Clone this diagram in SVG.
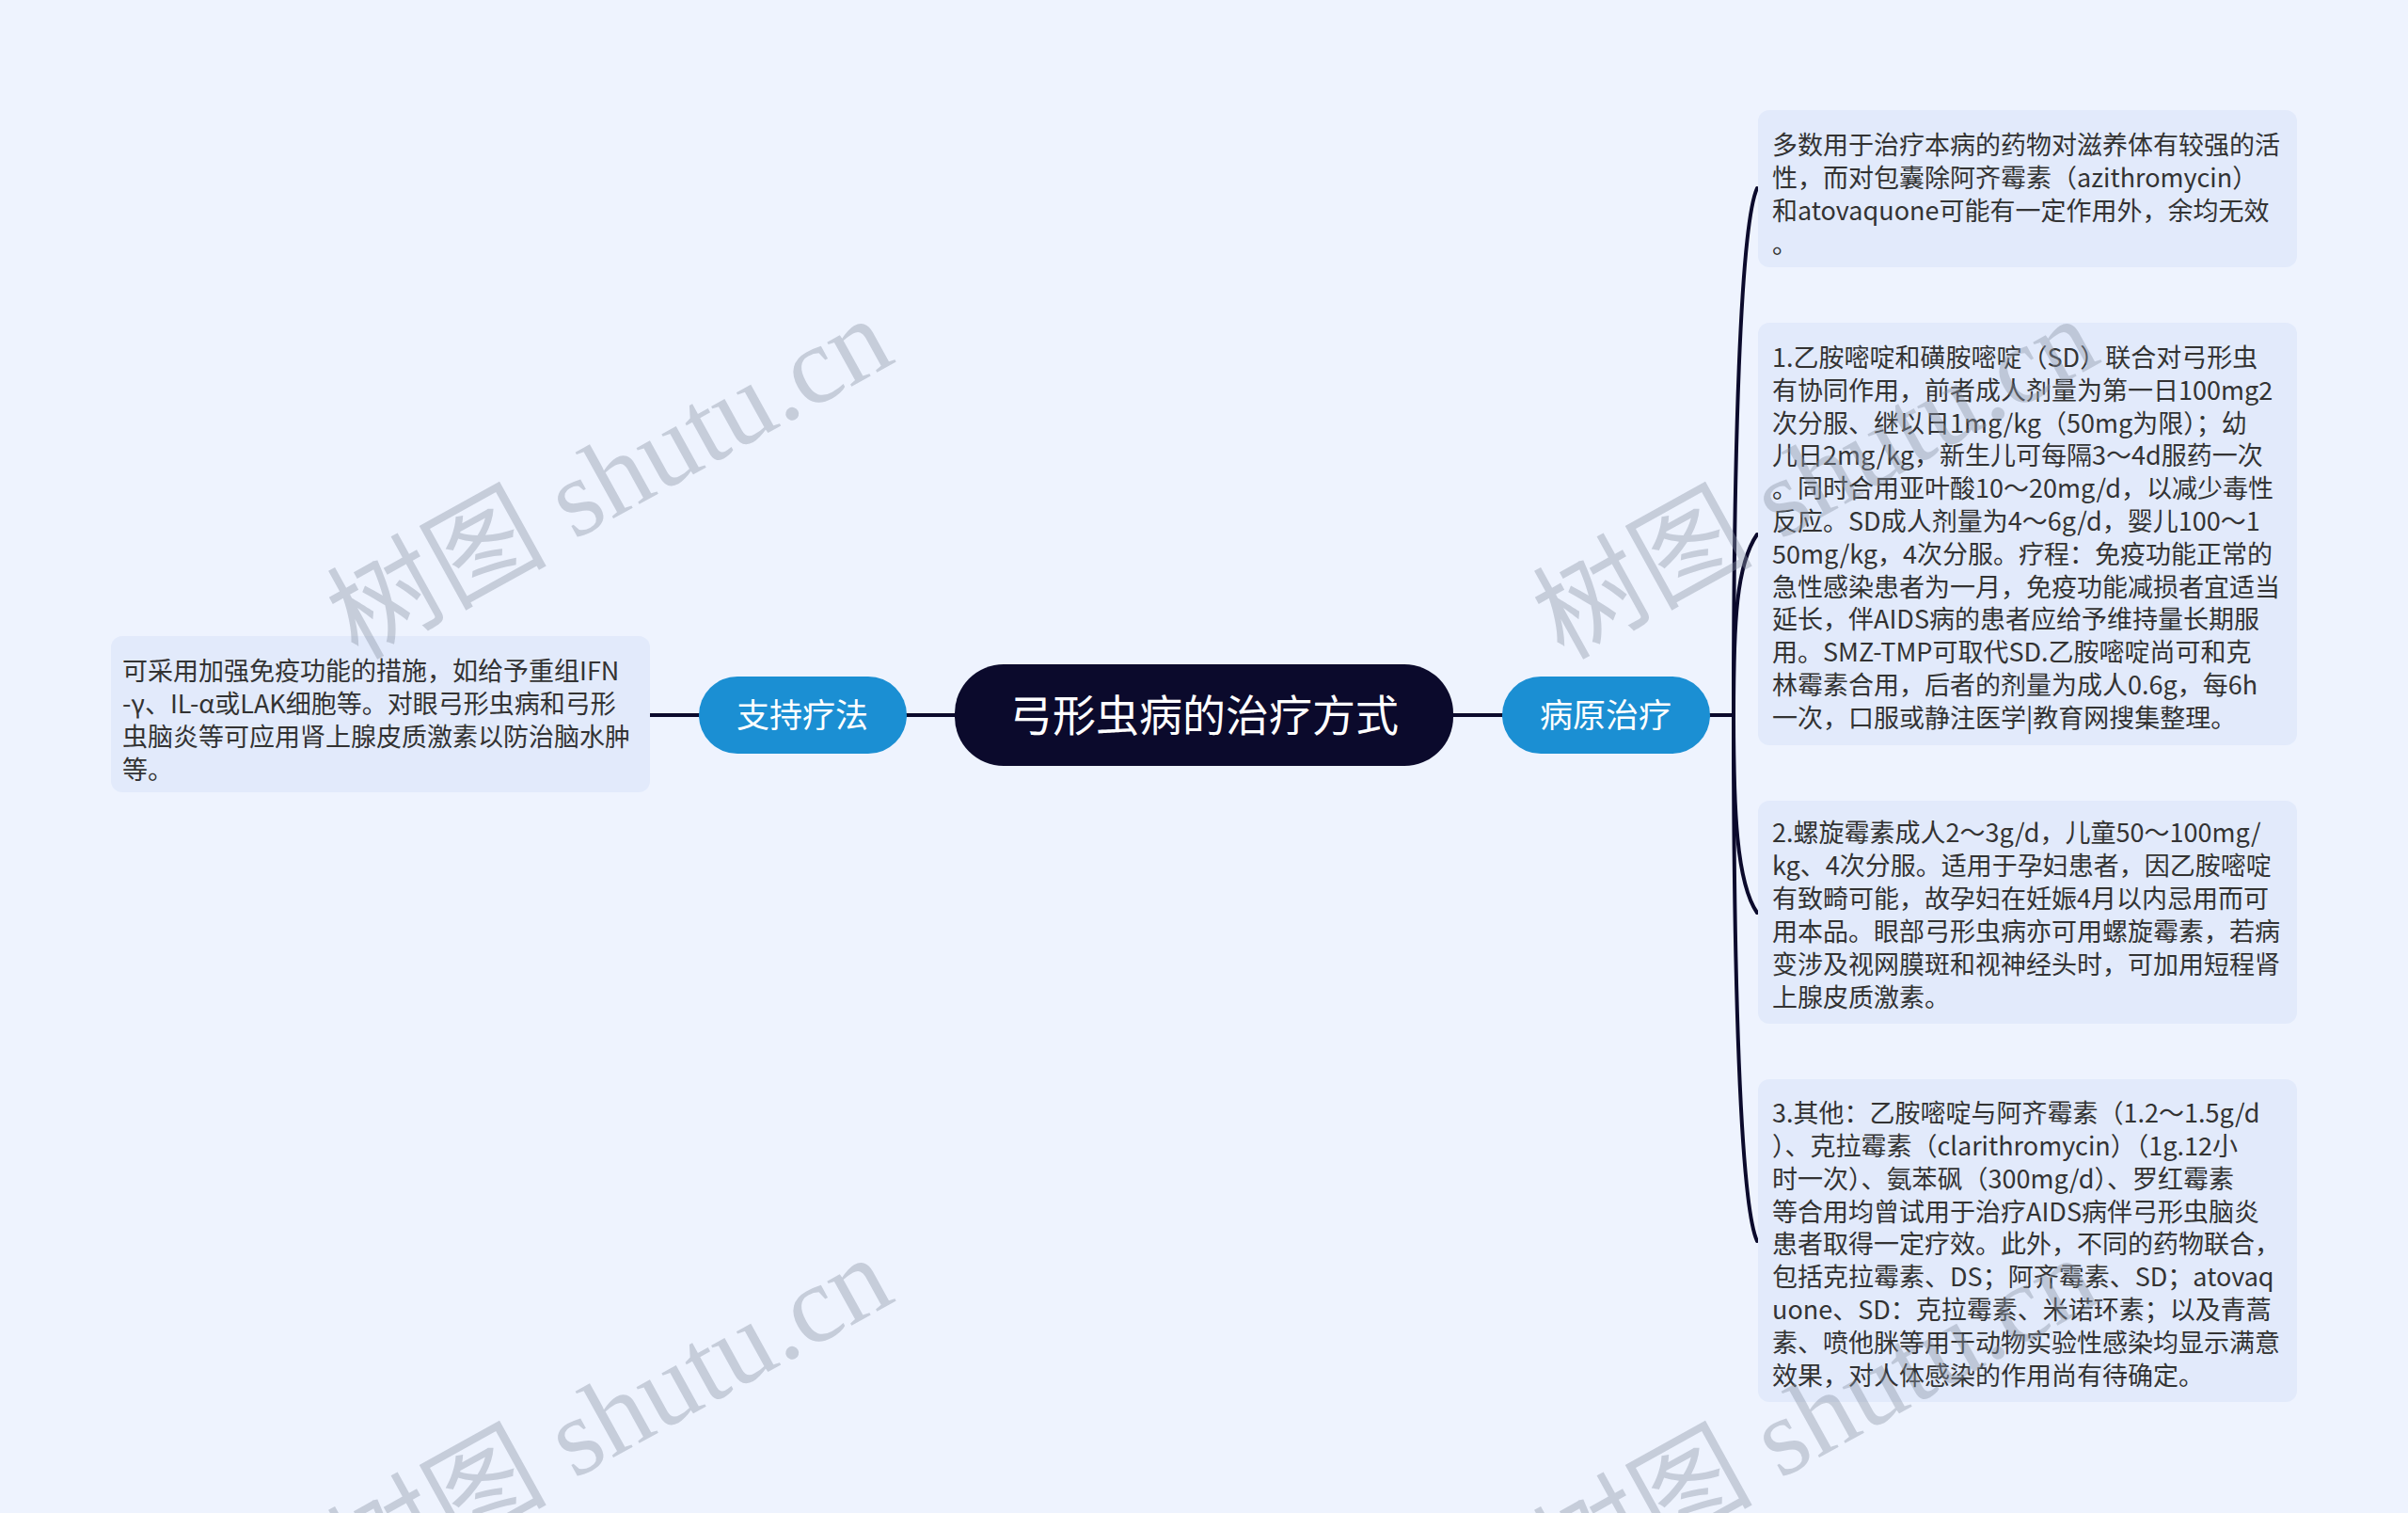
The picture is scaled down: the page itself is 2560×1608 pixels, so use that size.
<svg xmlns="http://www.w3.org/2000/svg" width="2560" height="1608" viewBox="0 0 2560 1608">
<style>
.bg{fill:#eef3fe}
.box{fill:#e2eafb}
.txt{font-family:"Noto Sans CJK SC","Noto Sans",sans-serif;font-size:27px;fill:#333333}
.root{fill:#0b0a2c}
.rootT{font-family:"Noto Sans CJK SC","Noto Sans",sans-serif;font-size:46px;fill:#ffffff;text-anchor:middle}
.br{fill:#1b8fd3}
.brT{font-family:"Noto Sans CJK SC","Noto Sans",sans-serif;font-size:35px;fill:#ffffff;text-anchor:middle}
.ln{fill:none;stroke:#0b0a2c;stroke-width:4;stroke-linecap:round}
.wm{font-family:"Liberation Serif","Noto Sans CJK SC",serif;font-size:117px;fill:#8a93a6;fill-opacity:0.4}
</style>
<rect class="bg" x="0" y="0" width="2560" height="1608"/>

<g id="connectors">
<path class="ln" d="M1015 760 H963"/>
<path class="ln" d="M743 760 H691"/>
<path class="ln" d="M1544 760 H1597"/>
<path class="ln" d="M1818 760 H1843"/>
<path class="ln" d="M1843 760 C1843 480 1850 240 1868 200"/>
<path class="ln" d="M1843 760 C1843 660 1846 600 1868 568"/>
<path class="ln" d="M1843 760 C1843 860 1846 938 1868 970"/>
<path class="ln" d="M1843 760 C1843 1040 1850 1280 1868 1319"/>
</g>

<g id="root">
<rect class="root" x="1015" y="706" width="530" height="108" rx="52"/>
<text class="rootT" x="1280" y="777">弓形虫病的治疗方式</text>
</g>

<g id="branch-pathogen">
<rect class="br" x="1597" y="719" width="221" height="82" rx="41"/>
<text class="brT" x="1707" y="773">病原治疗</text>
</g>

<g id="branch-support">
<rect class="br" x="743" y="719" width="221" height="82" rx="41"/>
<text class="brT" x="853" y="773">支持疗法</text>
</g>

<g id="leaf-support">
<rect class="box" x="118" y="676" width="573" height="166" rx="12"/>
<text class="txt" x="130" y="723">可采用加强免疫功能的措施，如给予重组IFN</text>
<text class="txt" x="130" y="758">-γ、IL-α或LAK细胞等。对眼弓形虫病和弓形</text>
<text class="txt" x="130" y="793">虫脑炎等可应用肾上腺皮质激素以防治脑水肿</text>
<text class="txt" x="130" y="828">等。</text>
</g>

<g id="leaf-1">
<rect class="box" x="1869" y="117" width="573" height="167" rx="12"/>
<text class="txt" x="1884" y="164">多数用于治疗本病的药物对滋养体有较强的活</text>
<text class="txt" x="1884" y="199">性，而对包囊除阿齐霉素（azithromycin）</text>
<text class="txt" x="1884" y="234">和atovaquone可能有一定作用外，余均无效</text>
<text class="txt" x="1884" y="269">。</text>
</g>

<g id="leaf-2">
<rect class="box" x="1869" y="343" width="573" height="449" rx="12"/>
<text class="txt" x="1884" y="390">1.乙胺嘧啶和磺胺嘧啶（SD）联合对弓形虫</text>
<text class="txt" x="1884" y="425">有协同作用，前者成人剂量为第一日100mg2</text>
<text class="txt" x="1884" y="460">次分服、继以日1mg/kg（50mg为限）；幼</text>
<text class="txt" x="1884" y="494">儿日2mg/kg，新生儿可每隔3～4d服药一次</text>
<text class="txt" x="1884" y="529">。同时合用亚叶酸10～20mg/d，以减少毒性</text>
<text class="txt" x="1884" y="564">反应。SD成人剂量为4～6g/d，婴儿100～1</text>
<text class="txt" x="1884" y="599">50mg/kg，4次分服。疗程：免疫功能正常的</text>
<text class="txt" x="1884" y="634">急性感染患者为一月，免疫功能减损者宜适当</text>
<text class="txt" x="1884" y="668">延长，伴AIDS病的患者应给予维持量长期服</text>
<text class="txt" x="1884" y="703">用。SMZ-TMP可取代SD.乙胺嘧啶尚可和克</text>
<text class="txt" x="1884" y="738">林霉素合用，后者的剂量为成人0.6g，每6h</text>
<text class="txt" x="1884" y="773">一次，口服或静注医学|教育网搜集整理。</text>
</g>

<g id="leaf-3">
<rect class="box" x="1869" y="851" width="573" height="237" rx="12"/>
<text class="txt" x="1884" y="895">2.螺旋霉素成人2～3g/d，儿童50～100mg/</text>
<text class="txt" x="1884" y="930">kg、4次分服。适用于孕妇患者，因乙胺嘧啶</text>
<text class="txt" x="1884" y="965">有致畸可能，故孕妇在妊娠4月以内忌用而可</text>
<text class="txt" x="1884" y="1000">用本品。眼部弓形虫病亦可用螺旋霉素，若病</text>
<text class="txt" x="1884" y="1035">变涉及视网膜斑和视神经头时，可加用短程肾</text>
<text class="txt" x="1884" y="1070">上腺皮质激素。</text>
</g>

<g id="leaf-4">
<rect class="box" x="1869" y="1147" width="573" height="343" rx="12"/>
<text class="txt" x="1884" y="1193">3.其他：乙胺嘧啶与阿齐霉素（1.2～1.5g/d</text>
<text class="txt" x="1884" y="1228">）、克拉霉素（clarithromycin）（1g.12小</text>
<text class="txt" x="1884" y="1263">时一次）、氨苯砜（300mg/d）、罗红霉素</text>
<text class="txt" x="1884" y="1298">等合用均曾试用于治疗AIDS病伴弓形虫脑炎</text>
<text class="txt" x="1884" y="1332">患者取得一定疗效。此外，不同的药物联合，</text>
<text class="txt" x="1884" y="1367">包括克拉霉素、DS；阿齐霉素、SD；atovaq</text>
<text class="txt" x="1884" y="1402">uone、SD：克拉霉素、米诺环素；以及青蒿</text>
<text class="txt" x="1884" y="1437">素、喷他脒等用于动物实验性感染均显示满意</text>
<text class="txt" x="1884" y="1472">效果，对人体感染的作用尚有待确定。</text>
</g>

<g id="watermarks">
<text class="wm" x="380" y="702" transform="rotate(-29 380 702)">树图 shutu.cn</text>
<text class="wm" x="1662" y="702" transform="rotate(-29 1662 702)">树图 shutu.cn</text>
<text class="wm" x="380" y="1700" transform="rotate(-29 380 1700)">树图 shutu.cn</text>
<text class="wm" x="1662" y="1700" transform="rotate(-29 1662 1700)">树图 shutu.cn</text>
</g>
</svg>
